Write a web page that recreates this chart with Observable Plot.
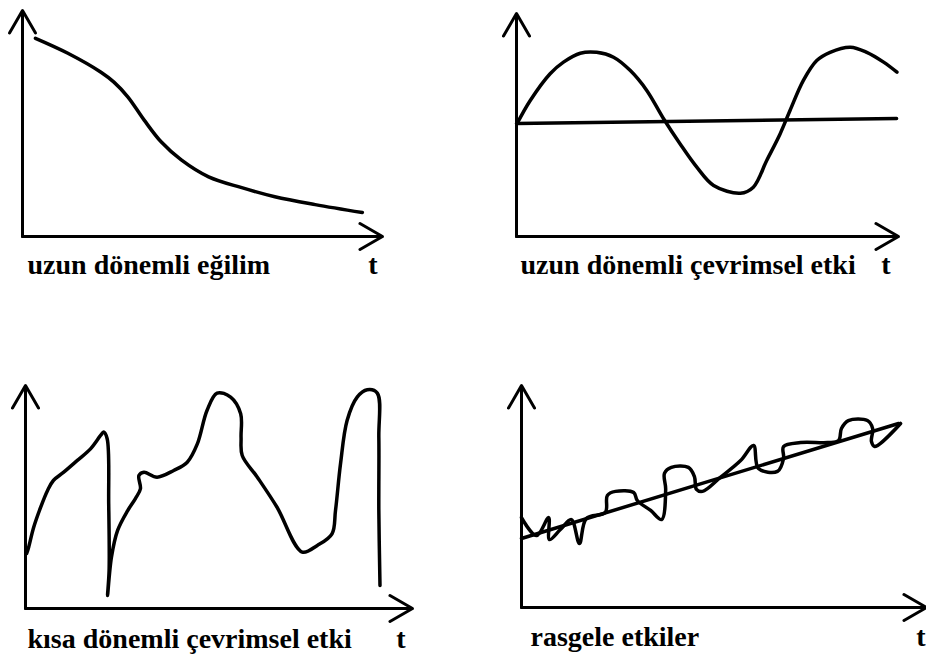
<!DOCTYPE html>
<html>
<head>
<meta charset="utf-8">
<script src="https://cdn.jsdelivr.net/npm/d3@7"></script>
<script src="https://cdn.jsdelivr.net/npm/@observablehq/plot@0.6"></script>
<style>
  body { margin: 0; background: #fff; }
  #wrap { position: relative; width: 926px; height: 657px; overflow: hidden; background: #fff; }
  .panel { position: absolute; }
</style>
</head>
<body>
<div id="wrap"></div>
<script>
// ---- Data (t, value) in 0–100 units for each panel ----
const panelTitles = [
  "uzun dönemli eğilim",
  "uzun dönemli çevrimsel etki",
  "kısa dönemli çevrimsel etki",
  "rasgele etkiler"
];
const axisName = "t";

// long-term trend
const trend = [
  [3.6, 87.7], [12.6, 81.1], [21.8, 72.7], [25.4, 68.3], [29.3, 61.7],
  [33.8, 51.5], [38.5, 41.9], [44.1, 33.9], [51.7, 26.4], [60.9, 21.6],
  [70.1, 17.6], [81.3, 14.1], [94.4, 10.6]
];

// long-term cycle and its level line
const longCycle = [
  [0.1, 50.5], [3.6, 61.0], [8.8, 73.0], [12.3, 78.2], [16.7, 82.2], [21.0, 82.6],
  [25.4, 80.4], [29.8, 74.4], [34.1, 65.5], [38.5, 52.8], [42.8, 41.6], [47.2, 31.1],
  [51.6, 22.9], [58.6, 19.4], [62.0, 22.1], [65.5, 34.1], [69.0, 46.0], [71.6, 56.5],
  [75.1, 70.0], [78.6, 78.9], [82.1, 82.6], [87.4, 84.9], [91.7, 82.6], [96.1, 78.2],
  [99.6, 73.7]
];
const cycleLevel = [[0, 50.7], [99.5, 52.9]];

// short-term cycle
const shortCycle = [
  [0.3, 24.7], [0.8, 27.4], [2.1, 36.3], [3.9, 45.3], [5.7, 52.9], [7.2, 57.4],
  [9.8, 61.0], [13.4, 66.4], [16.8, 71.6], [19.4, 77.6], [20.2, 79.1], [21.1, 76.1],
  [21.5, 46.9], [21.6, 17.0], [21.2, 5.8], [22.2, 22.9], [23.8, 35.0], [26.4, 43.9],
  [28.4, 49.3], [29.7, 53.7], [29.3, 59.6], [30.6, 61.1], [34.0, 58.9], [38.3, 61.9],
  [41.8, 65.6], [44.4, 73.8], [46.9, 88.8], [49.5, 96.6], [53.0, 94.8], [55.6, 87.3],
  [55.7, 76.8], [56.0, 68.6], [59.9, 58.9], [65.0, 45.4], [71.5, 25.3], [75.4, 28.3],
  [79.2, 33.5], [80.1, 43.9], [81.4, 64.9], [83.1, 84.3], [85.7, 94.8], [88.3, 98.1],
  [90.9, 96.6], [91.3, 76.8], [91.3, 43.9], [91.6, 10.3]
];

// random effects around a rising line
const randomLine = [[0, 31.1], [93.1, 82.9]];
const randomWiggle = [
  [0, 40.5], [3.7, 32.4], [6.7, 40.5], [6.9, 30.6], [9.6, 35.1], [12.3, 39.6],
  [14.3, 28.8], [16.0, 40.1], [20.7, 42.8], [21.2, 50.5], [23.2, 52.3], [27.7, 51.8],
  [28.6, 48.2], [31.9, 43.7], [34.6, 39.6], [35.6, 53.2], [35.3, 60.4], [37.0, 63.1],
  [41.2, 63.1], [42.7, 59.0], [43.2, 53.2], [44.7, 52.3], [49.1, 58.6], [54.1, 66.2],
  [57.3, 73.0], [58.5, 62.6], [63.2, 61.3], [64.7, 67.1], [64.7, 72.5], [68.9, 74.3],
  [75.6, 74.3], [78.3, 75.2], [79.0, 80.6], [80.7, 84.2], [85.4, 84.2], [86.7, 80.6],
  [86.4, 74.8], [87.2, 72.5], [93.6, 82.9]
];

const axisMax = 100;

// ---- Drawing ----
const toObj = a => a.map(([x, y]) => ({x, y}));
const FONT = "Liberation Serif";

function panel(cfg) {
  const axes = [
    {x1: 0, y1: 0, x2: axisMax, y2: 0},
    {x1: 0, y1: 0, x2: 0, y2: axisMax}
  ];
  const marks = [
    Plot.arrow(axes, {x1: "x1", y1: "y1", x2: "x2", y2: "y2", stroke: "#000",
      strokeWidth: 3, headLength: 13, headAngle: 60, strokeLinecap: "round"}),
    ...cfg.series.map(s => Plot.line(toObj(s.data), {x: "x", y: "y", stroke: "#000",
      strokeWidth: 3.5, curve: s.curve || "catmull-rom", strokeLinejoin: "round", strokeLinecap: "round"})),
    Plot.text([cfg.title], {frameAnchor: "bottom-left", dx: cfg.titleDx, dy: cfg.labelDy,
      textAnchor: "start", lineAnchor: "bottom", fontSize: 28, fontWeight: "bold",
      fontFamily: FONT, fill: "#000"}),
    Plot.text([axisName], {frameAnchor: "bottom-right", dx: cfg.tDx, dy: cfg.labelDy,
      textAnchor: "end", lineAnchor: "bottom", fontSize: 28, fontWeight: "bold",
      fontFamily: FONT, fill: "#000"})
  ];
  const svg = Plot.plot({
    width: cfg.width, height: cfg.height,
    marginLeft: cfg.m[0], marginRight: cfg.m[1], marginTop: cfg.m[2], marginBottom: cfg.m[3],
    x: {domain: [0, axisMax], axis: null},
    y: {domain: [0, axisMax], axis: null},
    style: {background: "transparent", overflow: "visible"},
    marks
  });
  const div = document.createElement("div");
  div.className = "panel";
  div.style.left = cfg.left + "px";
  div.style.top = cfg.top + "px";
  div.appendChild(svg);
  document.getElementById("wrap").appendChild(div);
}

panel({left: 0, top: 0, width: 463, height: 290, m: [22, 81, 10, 54],
  series: [{data: trend}], title: panelTitles[0], titleDx: 5, tDx: -5, labelDy: 37});
panel({left: 463, top: 0, width: 463, height: 290, m: [53, 28, 13, 54],
  series: [{data: longCycle}, {data: cycleLevel, curve: "linear"}],
  title: panelTitles[1], titleDx: 4, tDx: -8, labelDy: 37});
panel({left: 0, top: 370, width: 463, height: 287, m: [25, 51, 15, 49],
  series: [{data: shortCycle}], title: panelTitles[2], titleDx: 2, tDx: -7, labelDy: 39});
panel({left: 463, top: 370, width: 463, height: 287, m: [58, 0, 15, 50],
  series: [{data: randomLine, curve: "linear"}, {data: randomWiggle}],
  title: panelTitles[3], titleDx: 9, tDx: -1, labelDy: 38});
</script>
</body>
</html>
